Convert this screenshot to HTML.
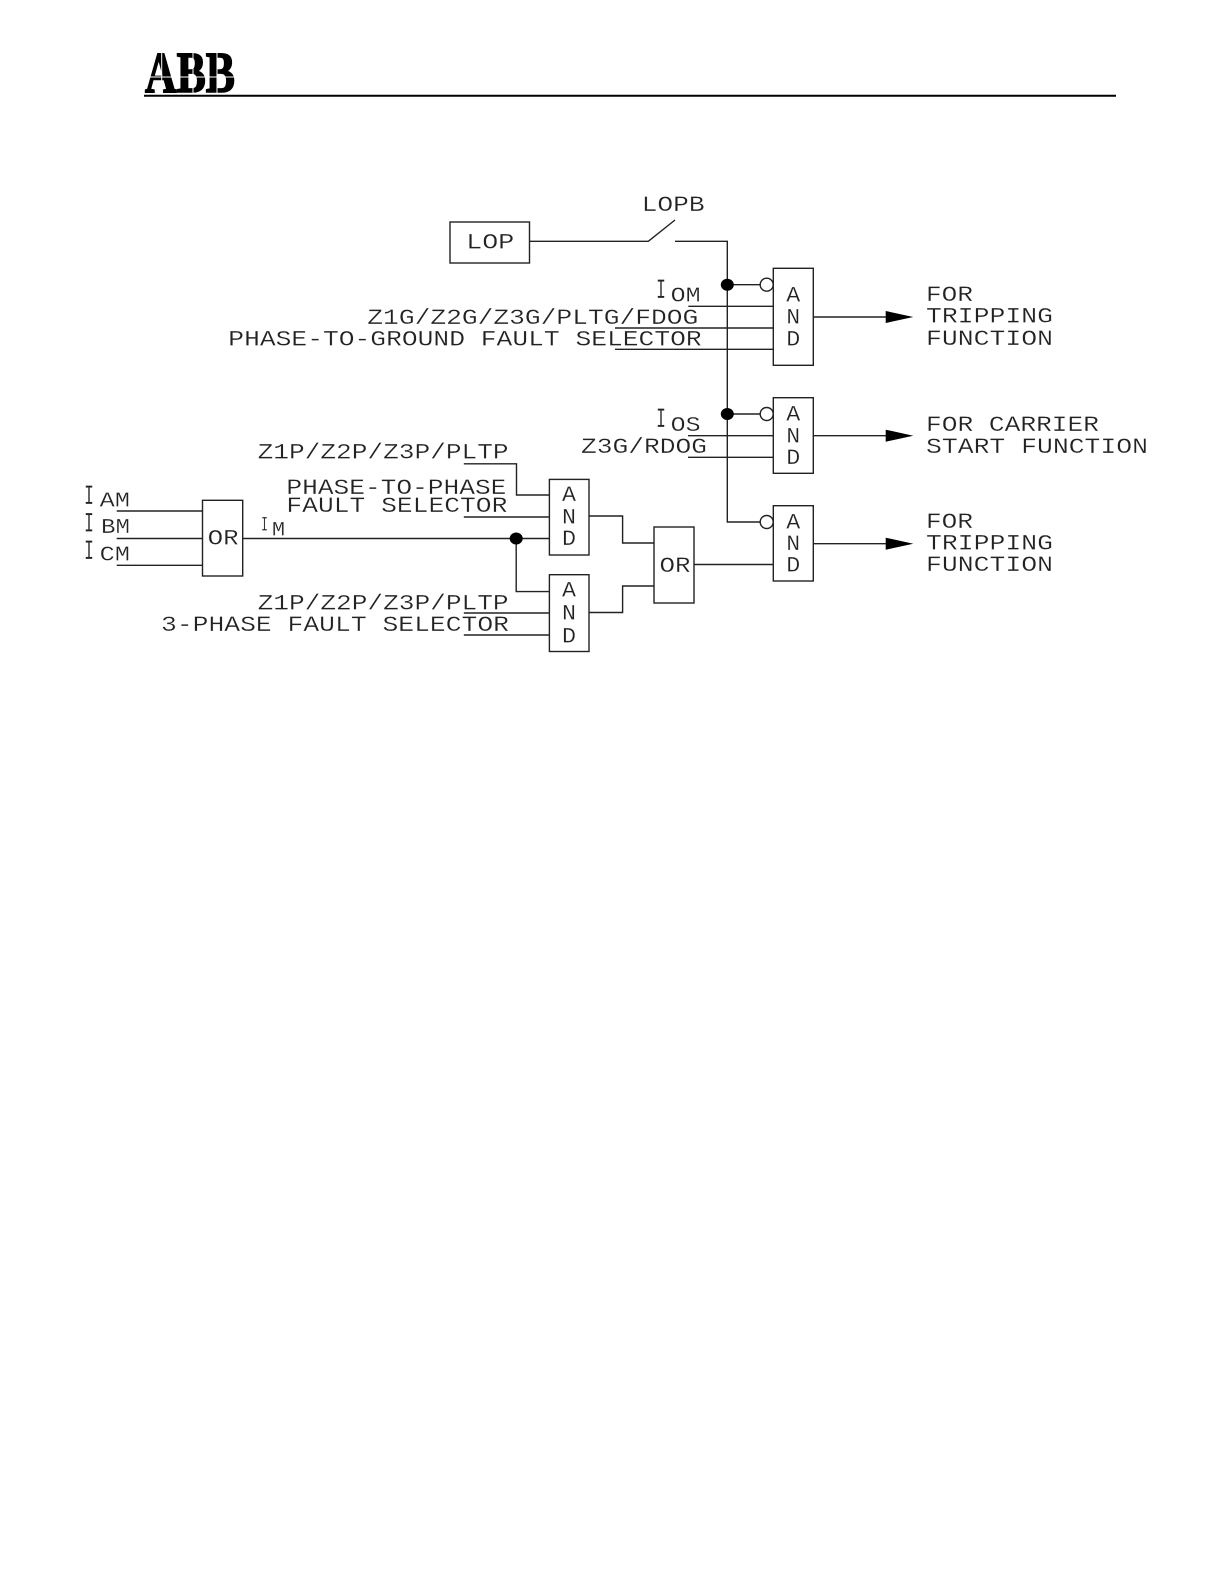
<!DOCTYPE html>
<html><head><meta charset="utf-8"><style>
html,body{margin:0;padding:0;background:#fff}
svg{display:block}
text{font-family:"Liberation Mono",monospace;font-size:22px;fill:#222;stroke:#fff;stroke-width:.25}
.c{stroke:#222;stroke-width:1.4;fill:none}
.l{font-size:21px}
.s{font-size:20px}
.i{font-size:28px}
</style></head><body>
<svg width="1224" height="1584" viewBox="0 0 1224 1584" xmlns="http://www.w3.org/2000/svg">
<rect width="1224" height="1584" fill="#fff"/>
<!-- logo -->
<text x="145" y="92" textLength="90" lengthAdjust="spacingAndGlyphs" style="font-family:'Liberation Serif',serif;font-weight:bold;font-size:58px;fill:#000;stroke:#000;stroke-width:1.6">ABB</text>
<path d="M144 77H236M161.7 53V93M193 53V93M217 53V93" stroke="#fff" stroke-width="1" fill="none"/>
<path d="M144 95.7H1116" stroke="#000" stroke-width="2"/>

<g class="c">
<!-- LOP -->
<rect x="450" y="222" width="79.5" height="41"/>
<path d="M529.5 241.3H648.3L675 220M675 241.3H727.3V522H760"/>
<!-- AND right column -->
<rect x="773.3" y="268.3" width="40" height="97"/>
<rect x="773.3" y="397.7" width="40" height="75.6"/>
<rect x="773.3" y="505.7" width="40" height="75.3"/>
<path d="M727.3 284.7H760M727.3 414H760"/>
<circle cx="766.7" cy="284.7" r="6.5" fill="#fff"/>
<circle cx="766.7" cy="414" r="6.5" fill="#fff"/>
<circle cx="766.7" cy="522" r="6.5" fill="#fff"/>
<path d="M688.3 306.3H773.3M615 328H773.3M615 349.3H773.3"/>
<path d="M688 435.7H773.3M688 457.3H773.3"/>
<path d="M813.3 317H890M813.3 435.7H890M813.3 543.7H890"/>
<!-- left -->
<rect x="202.5" y="500.3" width="40.2" height="75.7"/>
<path d="M116.7 511H202.5M116.7 538.5H202.5M116.7 565.3H202.5"/>
<path d="M242.7 538.5H549.4M516.2 538.5V591.6H549.4"/>
<path d="M463.8 463.8H516.5V495H549.4M463.8 517H549.4M463.8 613H549.4M463.8 635H549.4"/>
<rect x="549.4" y="479.4" width="39.6" height="75.6"/>
<rect x="549.4" y="574.7" width="39.6" height="76.8"/>
<rect x="654" y="527" width="40" height="76"/>
<path d="M589 516H622.6V543H654M589 612.5H622.6V586H654M694 564.5H773.3"/>
</g>
<g fill="#000">
<ellipse cx="727.3" cy="284.7" rx="6.5" ry="6"/>
<ellipse cx="727.3" cy="414" rx="6.5" ry="6"/>
<ellipse cx="516.2" cy="538.5" rx="6.5" ry="6"/>
<path d="M885.7 311L913.3 317L885.7 323Z"/>
<path d="M885.7 429.7L913.3 435.7L885.7 441.7Z"/>
<path d="M885.7 537.7L913.3 543.7L885.7 549.7Z"/>
</g>

<!-- labels -->
<text x="641.7" y="211" textLength="63" lengthAdjust="spacingAndGlyphs">LOPB</text>
<text x="466.3" y="248.3" textLength="48" lengthAdjust="spacingAndGlyphs">LOP</text>

<text class="i" x="656" y="298" textLength="10" lengthAdjust="spacingAndGlyphs">I</text>
<text class="l" x="670.7" y="301.7" textLength="30" lengthAdjust="spacingAndGlyphs">OM</text>
<text x="367.3" y="324" textLength="331" lengthAdjust="spacingAndGlyphs">Z1G/Z2G/Z3G/PLTG/FDOG</text>
<text x="228.3" y="345.7" textLength="473.4" lengthAdjust="spacingAndGlyphs">PHASE-TO-GROUND FAULT SELECTOR</text>

<text class="i" x="656" y="427" textLength="10" lengthAdjust="spacingAndGlyphs">I</text>
<text class="l" x="670.7" y="431" textLength="30" lengthAdjust="spacingAndGlyphs">OS</text>
<text x="581" y="453" textLength="126" lengthAdjust="spacingAndGlyphs">Z3G/RDOG</text>

<text x="257.6" y="458.7" textLength="251" lengthAdjust="spacingAndGlyphs">Z1P/Z2P/Z3P/PLTP</text>
<text x="286.4" y="494" textLength="220" lengthAdjust="spacingAndGlyphs">PHASE-TO-PHASE</text>
<text x="286.4" y="511.8" textLength="221" lengthAdjust="spacingAndGlyphs">FAULT SELECTOR</text>
<text x="257.6" y="609.6" textLength="251" lengthAdjust="spacingAndGlyphs">Z1P/Z2P/Z3P/PLTP</text>
<text x="161" y="631" textLength="348" lengthAdjust="spacingAndGlyphs">3-PHASE FAULT SELECTOR</text>

<text class="i" x="84" y="504" textLength="10" lengthAdjust="spacingAndGlyphs">I</text>
<text class="l" x="99.7" y="506.4" textLength="30.3" lengthAdjust="spacingAndGlyphs">AM</text>
<text class="i" x="84" y="531.4" textLength="10" lengthAdjust="spacingAndGlyphs">I</text>
<text class="l" x="101" y="532.8" textLength="29" lengthAdjust="spacingAndGlyphs">BM</text>
<text class="i" x="84" y="558.8" textLength="10" lengthAdjust="spacingAndGlyphs">I</text>
<text class="l" x="99.7" y="560.5" textLength="30.3" lengthAdjust="spacingAndGlyphs">CM</text>
<text x="207.6" y="544.6" textLength="31" lengthAdjust="spacingAndGlyphs">OR</text>
<text class="s" x="261" y="530.7" textLength="7" lengthAdjust="spacingAndGlyphs">I</text>
<text class="s" x="272" y="535.5" textLength="13" lengthAdjust="spacingAndGlyphs">M</text>
<text x="659.5" y="572" textLength="31" lengthAdjust="spacingAndGlyphs">OR</text>

<g text-anchor="middle">
<text x="569" y="501.2" textLength="14" lengthAdjust="spacingAndGlyphs">A</text><text x="569" y="523.7" textLength="14" lengthAdjust="spacingAndGlyphs">N</text><text x="569" y="545.2" textLength="14" lengthAdjust="spacingAndGlyphs">D</text>
<text x="569" y="596.7" textLength="14" lengthAdjust="spacingAndGlyphs">A</text><text x="569" y="619.7" textLength="14" lengthAdjust="spacingAndGlyphs">N</text><text x="569" y="642.3" textLength="14" lengthAdjust="spacingAndGlyphs">D</text>
<text x="793.3" y="301.7" textLength="14" lengthAdjust="spacingAndGlyphs">A</text><text x="793.3" y="323.3" textLength="14" lengthAdjust="spacingAndGlyphs">N</text><text x="793.3" y="345.7" textLength="14" lengthAdjust="spacingAndGlyphs">D</text>
<text x="793.3" y="420.7" textLength="14" lengthAdjust="spacingAndGlyphs">A</text><text x="793.3" y="442.7" textLength="14" lengthAdjust="spacingAndGlyphs">N</text><text x="793.3" y="464" textLength="14" lengthAdjust="spacingAndGlyphs">D</text>
<text x="793.3" y="528.3" textLength="14" lengthAdjust="spacingAndGlyphs">A</text><text x="793.3" y="550" textLength="14" lengthAdjust="spacingAndGlyphs">N</text><text x="793.3" y="571.7" textLength="14" lengthAdjust="spacingAndGlyphs">D</text>
</g>

<text x="926" y="301.2" textLength="47" lengthAdjust="spacingAndGlyphs">FOR</text>
<text x="926" y="322.6" textLength="127" lengthAdjust="spacingAndGlyphs">TRIPPING</text>
<text x="926" y="345" textLength="127" lengthAdjust="spacingAndGlyphs">FUNCTION</text>
<text x="926" y="431.2" textLength="173" lengthAdjust="spacingAndGlyphs">FOR CARRIER</text>
<text x="926" y="452.8" textLength="222" lengthAdjust="spacingAndGlyphs">START FUNCTION</text>
<text x="926" y="527.8" textLength="47" lengthAdjust="spacingAndGlyphs">FOR</text>
<text x="926" y="549.5" textLength="127" lengthAdjust="spacingAndGlyphs">TRIPPING</text>
<text x="926" y="571.2" textLength="127" lengthAdjust="spacingAndGlyphs">FUNCTION</text>
</svg>
</body></html>
